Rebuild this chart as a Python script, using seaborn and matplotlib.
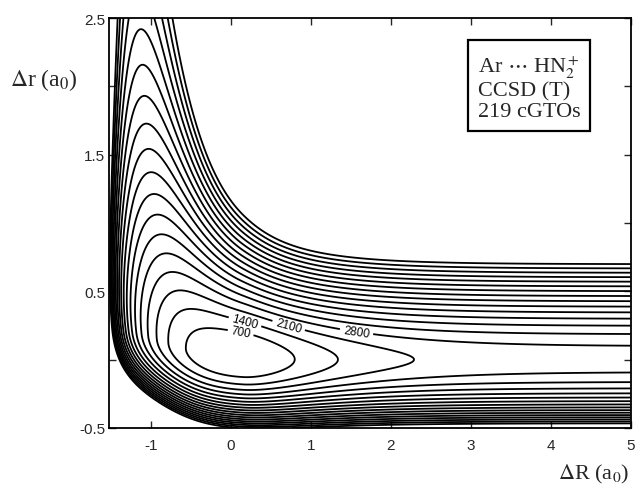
import numpy as np
import seaborn as sns
import matplotlib
matplotlib.use("Agg")
import matplotlib.pyplot as plt
from matplotlib.ticker import FixedLocator

# contour levels in cm-1 above the minimum
levels = [700, 1400, 2100, 2800, 3500, 4200, 4900, 5600, 6300, 7000,
          7700, 8400, 9100, 9800, 10500, 11200, 11900, 12600]
labelled = [700, 1400, 2100, 2800]
label_near = [(0.1, 0.14), (0.15, 0.21), (0.68, 0.16), (1.55, 0.12)]

# model surface, values
well_depth = 2500   # Ar...HN2+ well along dR
R_min = 0.15
b_right = 1.16
b_left = 0.58
nh_force = 33100    # N-H stretch, far from Ar
nh_a = 0.7
k_min = 0.08        # softening of the N-H stretch when Ar comes close
k_mid = -0.13
k_width = 0.42
k_comp = 1.0        # compression side stays stiff
shift_near = 0.25   # N-H minimum moves out when Ar comes close
shift_mid = -0.8
shift_width = 0.3
pin_height = 1000   # Ar-H repulsion
pin_R = -1.35
pin_c = 10.0
wall_height = 1500  # Ar-N repulsion
wall_R = -1.2
wall_cR = 5.0
wall_cr = 4.0

x_ticks = [-1, 0, 1, 2, 3, 4, 5]
y_ticks = [-0.5, 0.5, 1.5, 2.5]
y_minor = [0.0, 1.0, 2.0]


def sig(z):
    return 1 / (1 + np.exp(-z))


R = np.linspace(-1.52, 5, 600)
r = np.linspace(-0.5, 2.5, 600)
RR, rr = np.meshgrid(R, r)

x = RR - R_min
b = np.where(x > 0, b_right, b_left)
W = well_depth * (1 - np.exp(-b * x)) ** 2
k = k_min + (1 - k_min) * sig((RR - k_mid) / k_width)
s = shift_near * (1 - sig((RR - shift_mid) / shift_width))
kk = np.where(rr > s, k, k_comp)
M = nh_force * kk * (1 - np.exp(-nh_a * (rr - s))) ** 2 / nh_a ** 2
pin = pin_height * np.exp(-pin_c * (RR - pin_R))
wall = wall_height * np.exp(-wall_cR * (RR - wall_R) - wall_cr * rr)
V = W + M + pin + wall

sns.set_style("ticks")
plt.rcParams['mathtext.fontset'] = 'stix'
plt.rcParams['axes.unicode_minus'] = False

fig, ax = plt.subplots(figsize=(6.39, 4.89), dpi=100)
fig.subplots_adjust(left=0.171, right=0.987, bottom=0.123, top=0.961)

cs = ax.contour(RR, rr, V, levels=levels, colors='k', linewidths=1.3)

# put each label on its own line, near where the reference has it
spots = []
for lev, (px, py) in zip(labelled, label_near):
    v = cs.get_paths()[levels.index(lev)].vertices
    d = ((v[:, 0] - px) * 80) ** 2 + ((v[:, 1] - py) * 137) ** 2
    spots.append(tuple(v[np.argmin(d)]))
lbls = ax.clabel(cs, levels=labelled, fmt='%d', fontsize=8.5, inline=True,
                 inline_spacing=2, manual=spots)
for t in lbls:
    t.set_family('Liberation Sans')

ax.set_xlim(-1.52, 5)
ax.set_ylim(-0.5, 2.5)
ax.xaxis.set_major_locator(FixedLocator(x_ticks))
ax.yaxis.set_major_locator(FixedLocator(y_ticks))
ax.yaxis.set_minor_locator(FixedLocator(y_minor))
ax.set_xticklabels([str(t) for t in x_ticks])
ax.set_yticklabels(['-0.5', '0.5', '1.5', '2.5'])
ax.tick_params(which='both', direction='in', top=True, right=True,
               length=5, width=1, labelsize=11)
ax.tick_params(axis='x', pad=7)
ax.tick_params(axis='y', pad=3)
for lab in ax.get_xticklabels() + ax.get_yticklabels():
    lab.set_family('Liberation Sans')
for sp in ax.spines.values():
    sp.set_linewidth(1.3)
    sp.set_color('k')

ax.text(0.805, 0.832, 'Ar $\\cdots$ HN$_2^+$\nCCSD (T)\n219 cGTOs',
        transform=ax.transAxes, ha='center', va='center', multialignment='left',
        family='Liberation Serif', fontsize=16, linespacing=1.1,
        bbox=dict(boxstyle='square,pad=0.45', fc='white', ec='k', lw=1.6))

fig.text(0.015, 0.836, '$\\Delta$r (a$_0$)', family='Liberation Serif',
         fontsize=17, va='center', ha='left')
fig.text(0.985, 0.03, '$\\Delta$R (a$_0$)', family='Liberation Serif',
         fontsize=16, va='center', ha='right')

fig.savefig('out.png', dpi=100, facecolor='white')
